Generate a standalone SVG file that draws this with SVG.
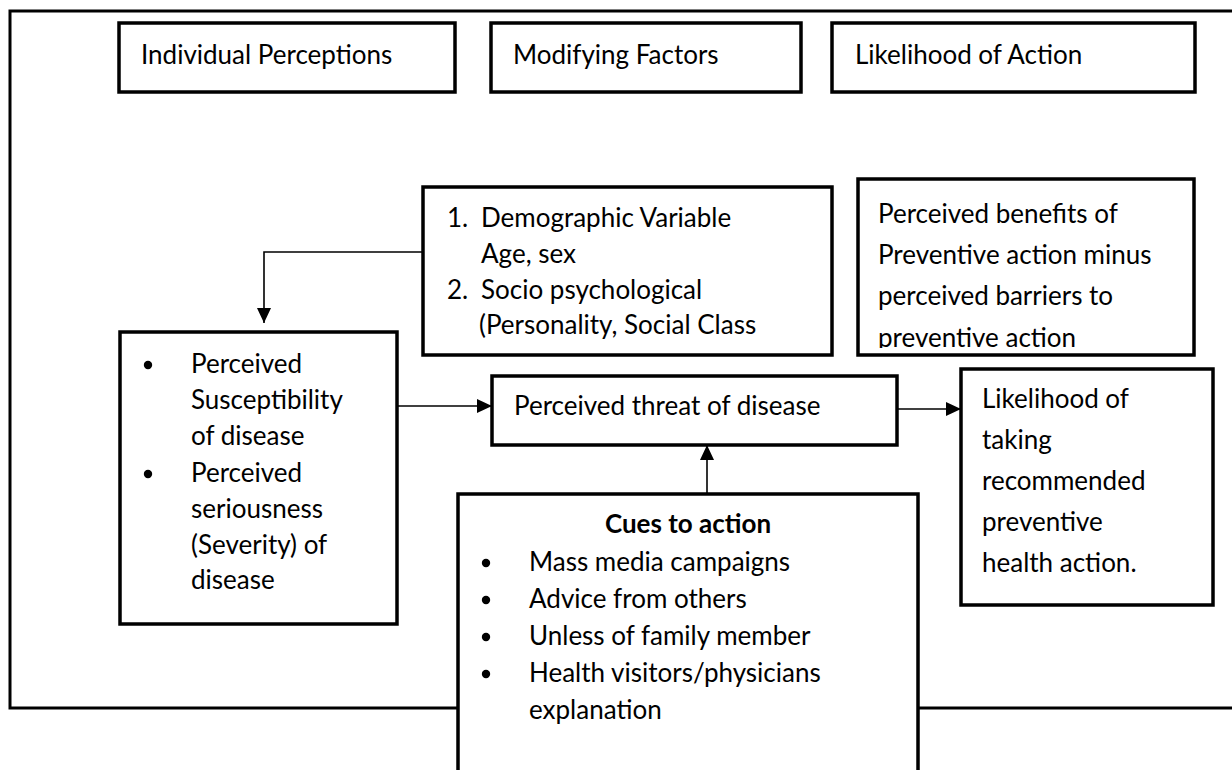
<svg xmlns="http://www.w3.org/2000/svg" width="1232" height="770" viewBox="0 0 1232 770">
<style>
  .box { fill: #fff; stroke: #000; stroke-width: 3.5; }
  .frame { fill: none; stroke: #000; stroke-width: 3; }
  .t { font-family: Lato, "Open Sans", "Liberation Sans", sans-serif; font-size: 26px; fill: #000; }
  .b { font-weight: bold; }
  .conn { fill: none; stroke: #000; stroke-width: 1.6; }
  .dot { fill: #000; }
</style>
<defs>
  <marker id="arr" viewBox="0 0 15 14" refX="15" refY="7" markerWidth="15" markerHeight="14" markerUnits="userSpaceOnUse" orient="auto">
    <path d="M0,0 L15,7 L0,14 Z" fill="#000"/>
  </marker>
  <clipPath id="clipBen"><rect x="860" y="181" width="332" height="167"/></clipPath>
</defs>
<rect width="1232" height="770" fill="#fff"/>

<g id="frame">
  <rect class="frame" x="10" y="11" width="1240" height="697"/>
</g>

<g id="header-individual">
  <rect class="box" x="119" y="23" width="336" height="69"/>
  <text class="t" x="141" y="64">Individual Perceptions</text>
</g>
<g id="header-modifying">
  <rect class="box" x="491" y="23" width="310" height="69"/>
  <text class="t" x="513" y="64">Modifying Factors</text>
</g>
<g id="header-likelihood">
  <rect class="box" x="832" y="23" width="363" height="69"/>
  <text class="t" x="855" y="64">Likelihood of Action</text>
</g>

<g id="modifying-factors">
  <rect class="box" x="423" y="187" width="409" height="168"/>
  <text class="t" x="447" y="227">1.</text>
  <text class="t" x="481" y="227">Demographic Variable</text>
  <text class="t" x="481" y="263">Age, sex</text>
  <text class="t" x="447" y="299">2.</text>
  <text class="t" x="481" y="299">Socio psychological</text>
  <text class="t" x="479" y="334">(Personality, Social Class</text>
</g>

<g id="benefits">
  <rect class="box" x="858" y="179" width="336" height="176"/>
  <g clip-path="url(#clipBen)">
    <text class="t" x="878" y="223">Perceived benefits of</text>
    <text class="t" x="878" y="264">Preventive action minus</text>
    <text class="t" x="878" y="305">perceived barriers to</text>
    <text class="t" x="878" y="347">preventive action</text>
  </g>
</g>

<g id="individual-perceptions">
  <rect class="box" x="120" y="332" width="277" height="292"/>
  <circle class="dot" cx="148" cy="365" r="4.2"/>
  <text class="t" x="191" y="373">Perceived</text>
  <text class="t" x="191" y="409">Susceptibility</text>
  <text class="t" x="191" y="445">of disease</text>
  <circle class="dot" cx="148" cy="474" r="4.2"/>
  <text class="t" x="191" y="482">Perceived</text>
  <text class="t" x="191" y="518">seriousness</text>
  <text class="t" x="191" y="554">(Severity) of</text>
  <text class="t" x="191" y="589">disease</text>
</g>

<g id="threat">
  <rect class="box" x="492" y="376" width="405" height="69"/>
  <text class="t" x="514" y="415">Perceived threat of disease</text>
</g>

<g id="likelihood">
  <rect class="box" x="961" y="369" width="252" height="236"/>
  <text class="t" x="982" y="408">Likelihood of</text>
  <text class="t" x="982" y="449">taking</text>
  <text class="t" x="982" y="490">recommended</text>
  <text class="t" x="982" y="531">preventive</text>
  <text class="t" x="982" y="572">health action.</text>
</g>

<g id="cues">
  <rect class="box" x="458" y="494" width="460" height="290"/>
  <text class="t b" x="688" y="533" text-anchor="middle">Cues to action</text>
  <circle class="dot" cx="486" cy="563" r="4.2"/>
  <text class="t" x="529" y="571">Mass media campaigns</text>
  <circle class="dot" cx="486" cy="600" r="4.2"/>
  <text class="t" x="529" y="608">Advice from others</text>
  <circle class="dot" cx="486" cy="637" r="4.2"/>
  <text class="t" x="529" y="645">Unless of family member</text>
  <circle class="dot" cx="486" cy="674" r="4.2"/>
  <text class="t" x="529" y="682">Health visitors/physicians</text>
  <text class="t" x="529" y="719">explanation</text>
</g>

<g id="connectors">
  <path class="conn" d="M423,252 H264 V323" marker-end="url(#arr)"/>
  <path class="conn" d="M397,406 H492" marker-end="url(#arr)"/>
  <path class="conn" d="M897,409 H961" marker-end="url(#arr)"/>
  <path class="conn" d="M707,494 V445" marker-end="url(#arr)"/>
</g>
</svg>
